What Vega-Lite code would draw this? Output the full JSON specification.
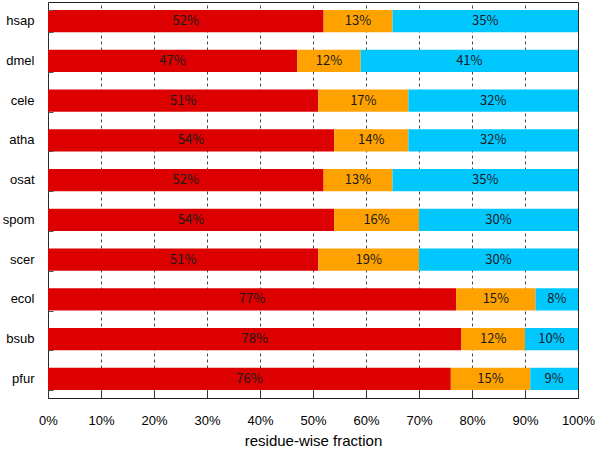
{
  "$schema": "https://vega.github.io/schema/vega-lite/v6.json",
  "width": 530,
  "height": 396,
  "autosize": "none",
  "padding": {"left": 48, "top": 2, "right": 22, "bottom": 62},
  "background": "white",
  "config": {
    "view": {"stroke": "#222", "strokeWidth": 1},
    "font": "Liberation Sans"
  },
  "data": {
    "values": [
      {"org": "hsap", "type": "a", "order": 1, "value": 52},
      {"org": "hsap", "type": "b", "order": 2, "value": 13},
      {"org": "hsap", "type": "c", "order": 3, "value": 35},
      {"org": "dmel", "type": "a", "order": 1, "value": 47},
      {"org": "dmel", "type": "b", "order": 2, "value": 12},
      {"org": "dmel", "type": "c", "order": 3, "value": 41},
      {"org": "cele", "type": "a", "order": 1, "value": 51},
      {"org": "cele", "type": "b", "order": 2, "value": 17},
      {"org": "cele", "type": "c", "order": 3, "value": 32},
      {"org": "atha", "type": "a", "order": 1, "value": 54},
      {"org": "atha", "type": "b", "order": 2, "value": 14},
      {"org": "atha", "type": "c", "order": 3, "value": 32},
      {"org": "osat", "type": "a", "order": 1, "value": 52},
      {"org": "osat", "type": "b", "order": 2, "value": 13},
      {"org": "osat", "type": "c", "order": 3, "value": 35},
      {"org": "spom", "type": "a", "order": 1, "value": 54},
      {"org": "spom", "type": "b", "order": 2, "value": 16},
      {"org": "spom", "type": "c", "order": 3, "value": 30},
      {"org": "scer", "type": "a", "order": 1, "value": 51},
      {"org": "scer", "type": "b", "order": 2, "value": 19},
      {"org": "scer", "type": "c", "order": 3, "value": 30},
      {"org": "ecol", "type": "a", "order": 1, "value": 77},
      {"org": "ecol", "type": "b", "order": 2, "value": 15},
      {"org": "ecol", "type": "c", "order": 3, "value": 8},
      {"org": "bsub", "type": "a", "order": 1, "value": 78},
      {"org": "bsub", "type": "b", "order": 2, "value": 12},
      {"org": "bsub", "type": "c", "order": 3, "value": 10},
      {"org": "pfur", "type": "a", "order": 1, "value": 76},
      {"org": "pfur", "type": "b", "order": 2, "value": 15},
      {"org": "pfur", "type": "c", "order": 3, "value": 9}
    ]
  },
  "transform": [
    {"stack": "value", "groupby": ["org"], "sort": [{"field": "order"}], "as": ["x0", "x1"]},
    {"calculate": "(datum.x0 + datum.x1) / 2", "as": "xmid"},
    {"calculate": "datum.value + '%'", "as": "label"}
  ],
  "resolve": {"axis": {"x": "independent", "y": "independent"}},
  "layer": [
    {
      "mark": {"type": "bar"},
      "encoding": {
        "y": {
          "field": "org",
          "type": "nominal",
          "sort": ["hsap", "dmel", "cele", "atha", "osat", "spom", "scer", "ecol", "bsub", "pfur"],
          "scale": {"paddingInner": 0.44, "paddingOuter": 0.2},
          "axis": {
            "orient": "left",
            "title": null,
            "domain": false,
            "ticks": false,
            "labelPadding": 14,
            "labelFontSize": 13,
            "labelColor": "#000"
          }
        },
        "x": {
          "field": "x0",
          "type": "quantitative",
          "scale": {"domain": [0, 100], "nice": false},
          "axis": {
            "orient": "bottom",
            "title": "residue-wise fraction",
            "titleFontSize": 15,
            "titleFontWeight": "normal",
            "titleColor": "#000",
            "titlePadding": 6,
            "values": [0, 10, 20, 30, 40, 50, 60, 70, 80, 90, 100],
            "labelExpr": "datum.value + '%'",
            "labelFlush": false,
            "labelFontSize": 13,
            "labelColor": "#000",
            "labelPadding": 16,
            "ticks": false,
            "domain": false,
            "grid": true,
            "gridDash": [3, 3],
            "gridColor": "#333",
            "gridOpacity": 0.9
          }
        },
        "x2": {"field": "x1"},
        "color": {
          "field": "type",
          "type": "nominal",
          "scale": {"domain": ["a", "b", "c"], "range": ["#dc0000", "#ffa200", "#00c8ff"]},
          "legend": null
        }
      }
    },
    {
      "mark": {"type": "text", "font": "Noto Sans CJK JP", "fontSize": 13, "color": "#1a1a1a"},
      "encoding": {
        "y": {
          "field": "org",
          "type": "nominal",
          "sort": ["hsap", "dmel", "cele", "atha", "osat", "spom", "scer", "ecol", "bsub", "pfur"],
          "axis": {
            "orient": "left",
            "offset": -5,
            "title": null,
            "domain": false,
            "labels": false,
            "ticks": true,
            "tickBand": "extent",
            "tickSize": 5,
            "tickColor": "#555",
            "grid": false,
            "zindex": 1
          }
        },
        "x": {
          "field": "xmid",
          "type": "quantitative",
          "axis": {
            "orient": "bottom",
            "offset": -7,
            "title": null,
            "values": [0, 10, 20, 30, 40, 50, 60, 70, 80, 90, 100],
            "labels": false,
            "domain": false,
            "ticks": true,
            "tickSize": 7,
            "tickColor": "#333",
            "grid": false,
            "zindex": 1
          }
        },
        "text": {"field": "label", "type": "nominal"}
      }
    }
  ]
}
